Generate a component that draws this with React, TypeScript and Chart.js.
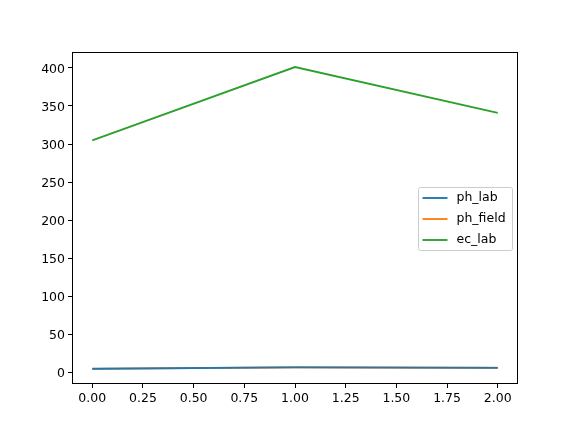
import React, { useEffect, useRef } from "react";
import { Chart, registerables } from "chart.js";

Chart.register(...registerables);

const xValues = [0, 1, 2];
const phLab = [5.2, 7.0, 6.3];
const phField = [5.0, 7.1, 6.6];
const ecLab = [305, 401, 341];
const seriesNames = ["ph_lab", "ph_field", "ec_lab"];
const seriesColors = ["#1f77b4", "#ff7f0e", "#2ca02c"];
const xTicks = [0, 0.25, 0.5, 0.75, 1, 1.25, 1.5, 1.75, 2];
const yTicks = [0, 50, 100, 150, 200, 250, 300, 350, 400];

const FONT = "DejaVu Sans";

const framePlugin = {
  id: "frame",
  afterDraw(chart: any) {
    const { ctx, chartArea } = chart;
    ctx.save();
    ctx.strokeStyle = "#000";
    ctx.lineWidth = 1;
    ctx.strokeRect(
      Math.round(chartArea.left) + 0.5,
      Math.round(chartArea.top) + 0.5,
      Math.round(chartArea.right - chartArea.left) - 1,
      Math.round(chartArea.bottom - chartArea.top) - 1
    );
    // legend
    const w = 94;
    const h = 63;
    const x = Math.round(chartArea.right - 6 - w) + 0.5;
    const y = Math.round((chartArea.top + chartArea.bottom) / 2 - h / 2) + 0.5;
    ctx.beginPath();
    const r = 2;
    ctx.moveTo(x + r, y);
    ctx.lineTo(x + w - r, y);
    ctx.quadraticCurveTo(x + w, y, x + w, y + r);
    ctx.lineTo(x + w, y + h - r);
    ctx.quadraticCurveTo(x + w, y + h, x + w - r, y + h);
    ctx.lineTo(x + r, y + h);
    ctx.quadraticCurveTo(x, y + h, x, y + h - r);
    ctx.lineTo(x, y + r);
    ctx.quadraticCurveTo(x, y, x + r, y);
    ctx.closePath();
    ctx.fillStyle = "rgba(255,255,255,0.8)";
    ctx.fill();
    ctx.strokeStyle = "#cccccc";
    ctx.lineWidth = 1;
    ctx.stroke();
    ctx.font = `12.5px "${FONT}"`;
    ctx.textBaseline = "middle";
    ctx.textAlign = "left";
    seriesNames.forEach((name, i) => {
      const ly = y + 10.5 + i * 21;
      ctx.strokeStyle = seriesColors[i];
      ctx.lineWidth = 1.875;
      ctx.beginPath();
      ctx.moveTo(x + 4, ly);
      ctx.lineTo(x + 29, ly);
      ctx.stroke();
      ctx.fillStyle = "#000";
      ctx.fillText(name, x + 38, ly);
    });
    ctx.restore();
  },
};

export default function App() {
  const ref = useRef<HTMLCanvasElement>(null);
  useEffect(() => {
    if (!ref.current) return;
    const data = [phLab, phField, ecLab];
    const chart = new Chart(ref.current, {
      type: "line",
      data: {
        datasets: seriesNames.map((name, i) => ({
          label: name,
          data: xValues.map((x, j) => ({ x, y: data[i][j] })),
          borderColor: seriesColors[i],
          backgroundColor: seriesColors[i],
          borderWidth: 1.875,
          pointRadius: 0,
          tension: 0,
        })),
      },
      options: {
        responsive: false,
        animation: false,
        devicePixelRatio: 1,
        layout: { padding: { left: 0, top: 52, right: 58, bottom: 0 } },
        plugins: { legend: { display: false }, tooltip: { enabled: false } },
        scales: {
          x: {
            type: "linear",
            min: -0.1,
            max: 2.1,
            afterBuildTicks: (axis: any) => {
              axis.ticks = xTicks.map((v) => ({ value: v }));
            },
            afterFit: (axis: any) => {
              axis.height = 48;
            },
            grid: {
              drawOnChartArea: false,
              tickLength: 4,
              color: "#000",
            },
            border: { display: false },
            ticks: {
              color: "#000",
              font: { family: FONT, size: 12.5 },
              padding: 3,
              maxRotation: 0,
              autoSkip: false,
              callback: (v: any) => Number(v).toFixed(2),
            },
          },
          y: {
            type: "linear",
            min: -14.8,
            max: 420.8,
            afterBuildTicks: (axis: any) => {
              axis.ticks = yTicks.map((v) => ({ value: v }));
            },
            afterFit: (axis: any) => {
              axis.width = 72;
            },
            grid: {
              drawOnChartArea: false,
              tickLength: 4,
              color: "#000",
            },
            border: { display: false },
            ticks: {
              color: "#000",
              font: { family: FONT, size: 12.5 },
              padding: 3,
              labelOffset: 1.5,
              autoSkip: false,
              callback: (v: any) => String(v),
            },
          },
        },
      },
      plugins: [framePlugin],
    });
    return () => chart.destroy();
  }, []);
  return (
    <div style={{ position: "fixed", left: 0, top: 0, width: 576, height: 432, background: "#fff" }}>
      <canvas ref={ref} width={576} height={432} style={{ width: 576, height: 432 }} />
    </div>
  );
}
